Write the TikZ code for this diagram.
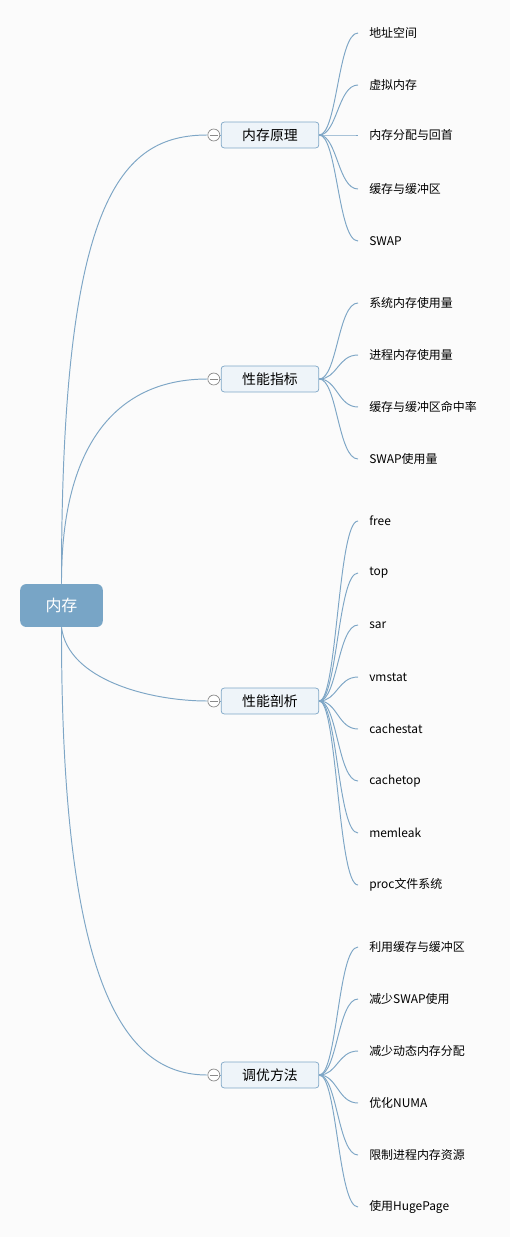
\documentclass[tikz,border=0pt]{standalone}
\usepackage{fontspec}
\setmainfont{Noto Sans CJK SC}
\usetikzlibrary{calc}
\definecolor{linkblue}{HTML}{7EA6C6}
\definecolor{rootblue}{HTML}{78A5C6}
\definecolor{topicfill}{HTML}{EEF4F9}
\definecolor{foldgray}{HTML}{8A8A8A}
\definecolor{bg}{HTML}{FBFBFB}
\begin{document}
\begin{tikzpicture}[
    x=0.02cm,y=-0.02cm,
    root/.style={rectangle,rounded corners=3.4pt,fill=rootblue,text=white,
        minimum width=47pt,minimum height=24.4pt,font=\fontsize{9.1}{11}\selectfont},
    topic/.style={rectangle,rounded corners=1.7pt,draw=linkblue,fill=topicfill,
        minimum width=55.6pt,minimum height=14.7pt,inner sep=0pt,font=\fontsize{7.9}{9}\selectfont},
    fold/.style={circle,draw=foldgray,fill=white,minimum size=6.8pt,inner sep=0pt,line width=0.4pt},
    leaf/.style={anchor=west,inner xsep=6.2pt,inner ysep=1pt,font=\fontsize{6.8}{8}\selectfont},
    link/.style={draw=linkblue,line width=0.55pt}
]
\useasboundingbox[fill=bg] (0,0) rectangle (510,1237);

\node[root] (mem) at (61.5,605.5) {内存};

% main topics
\node[topic] (t1) at (270,135) {内存原理};
\node[topic] (t2) at (270,379) {性能指标};
\node[topic] (t3) at (270,701) {性能剖析};
\node[topic] (t4) at (270,1075) {调优方法};

\foreach \i in {1,2,3,4}{
    \node[fold] (f\i) at ($(t\i.west)+(-7,0)$) {};
    \draw[foldgray,line width=0.4pt] ($(f\i.center)+(-4,0)$) -- ($(f\i.center)+(4,0)$);
    \draw[link] (f\i.east) -- (t\i.west);
}

\draw[link] (mem.north) .. controls (61,200) and (120,135) .. (f1.west);
\draw[link] (mem.north) .. controls (61,440) and (120,379) .. (f2.west);
\draw[link] (mem.south) .. controls (68,680) and (150,701) .. (f3.west);
\draw[link] (mem.south) .. controls (61,1000) and (130,1075) .. (f4.west);

% leaves
\foreach \y/\t [count=\i] in {33/地址空间,85/虚拟内存,135/内存分配与回首,189/缓存与缓冲区,241/SWAP}{
    \node[leaf] (a\i) at (358,\y) {\t};
    \draw[link] (t1.east) .. controls +(18,0) and +(-20,0) .. (a\i.west);
}
\foreach \y/\t [count=\i] in {303/系统内存使用量,355/进程内存使用量,407/缓存与缓冲区命中率,459/SWAP使用量}{
    \node[leaf] (b\i) at (358,\y) {\t};
    \draw[link] (t2.east) .. controls +(18,0) and +(-20,0) .. (b\i.west);
}
\foreach \y/\t [count=\i] in {521/free,573/top,625/sar,677/vmstat,729/cachestat,781/cachetop,833/memleak,885/proc文件系统}{
    \node[leaf] (c\i) at (358,\y) {\t};
    \draw[link] (t3.east) .. controls +(18,0) and +(-20,0) .. (c\i.west);
}
\foreach \y/\t [count=\i] in {947/利用缓存与缓冲区,999/减少SWAP使用,1051/减少动态内存分配,1103/优化NUMA,1155/限制进程内存资源,1207/使用HugePage}{
    \node[leaf] (d\i) at (358,\y) {\t};
    \draw[link] (t4.east) .. controls +(18,0) and +(-20,0) .. (d\i.west);
}

\end{tikzpicture}
\end{document}
